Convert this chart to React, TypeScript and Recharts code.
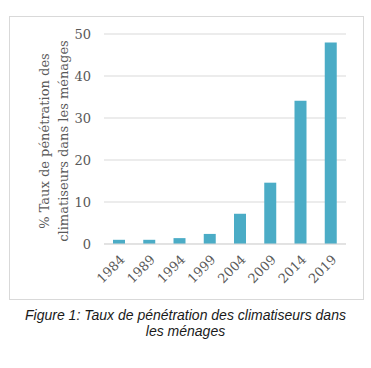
import { BarChart, Bar, XAxis, YAxis, CartesianGrid } from 'recharts';

const years = ['1984', '1989', '1994', '1999', '2004', '2009', '2014', '2019'];
const penetration = [1, 1, 1.4, 2.4, 7.2, 14.6, 34.1, 48];
const yTicks = [0, 10, 20, 30, 40, 50];

const data = years.map((year, i) => ({ year, value: penetration[i] }));

const serif = '"DejaVu Serif", serif';
const gray = '#595959';

const AxisTitle = (props: any) => {
  const { viewBox } = props;
  const cy = viewBox.y + viewBox.height / 2 + 2;
  return (
    <g fontFamily={serif} fontSize={13} fill={gray}>
      <text x={34} y={cy} transform={`rotate(-90 34 ${cy})`} textAnchor="middle" dominantBaseline="central">
        % Taux de pénétration des
      </text>
      <text x={53} y={cy} transform={`rotate(-90 53 ${cy})`} textAnchor="middle" dominantBaseline="central">
        climatiseurs dans les ménages
      </text>
    </g>
  );
};

const App = () => {
  return (
    <div style={{ position: 'absolute', left: 0, top: 0, width: 371, height: 368, background: '#fff' }}>
      <div
        style={{
          position: 'absolute',
          left: 9,
          top: 16,
          width: 355,
          height: 284,
          border: '1px solid #d9d9d9',
          boxSizing: 'border-box',
        }}
      >
        <BarChart width={353} height={282} data={data} margin={{ top: 17, right: 17, bottom: 0, left: 0 }}>
          <CartesianGrid vertical={false} stroke="#d9d9d9" />
          <XAxis
            dataKey="year"
            tickLine={false}
            axisLine={{ stroke: '#d9d9d9' }}
            interval={0}
            angle={-45}
            textAnchor="end"
            tick={{ fontFamily: serif, fontSize: 13, fill: gray }}
            tickMargin={4}
            height={55}
          />
          <YAxis
            width={94}
            domain={[0, 50]}
            ticks={yTicks}
            tickLine={false}
            axisLine={false}
            tickSize={0}
            tickMargin={13}
            tick={{ fontFamily: serif, fontSize: 13, fill: gray }}
            label={<AxisTitle />}
          />
          <Bar dataKey="value" fill="#4bacc6" barSize={12} isAnimationActive={false} />
        </BarChart>
      </div>
      <div
        style={{
          position: 'absolute',
          left: 0,
          top: 307,
          width: 371,
          textAlign: 'center',
          fontFamily: '"Liberation Sans", Arial, sans-serif',
          fontStyle: 'italic',
          fontSize: 14,
          lineHeight: '16px',
          color: '#1a1a1a',
        }}
      >
        Figure 1: Taux de pénétration des climatiseurs dans
        <br />
        les ménages
      </div>
    </div>
  );
};

export default App;
